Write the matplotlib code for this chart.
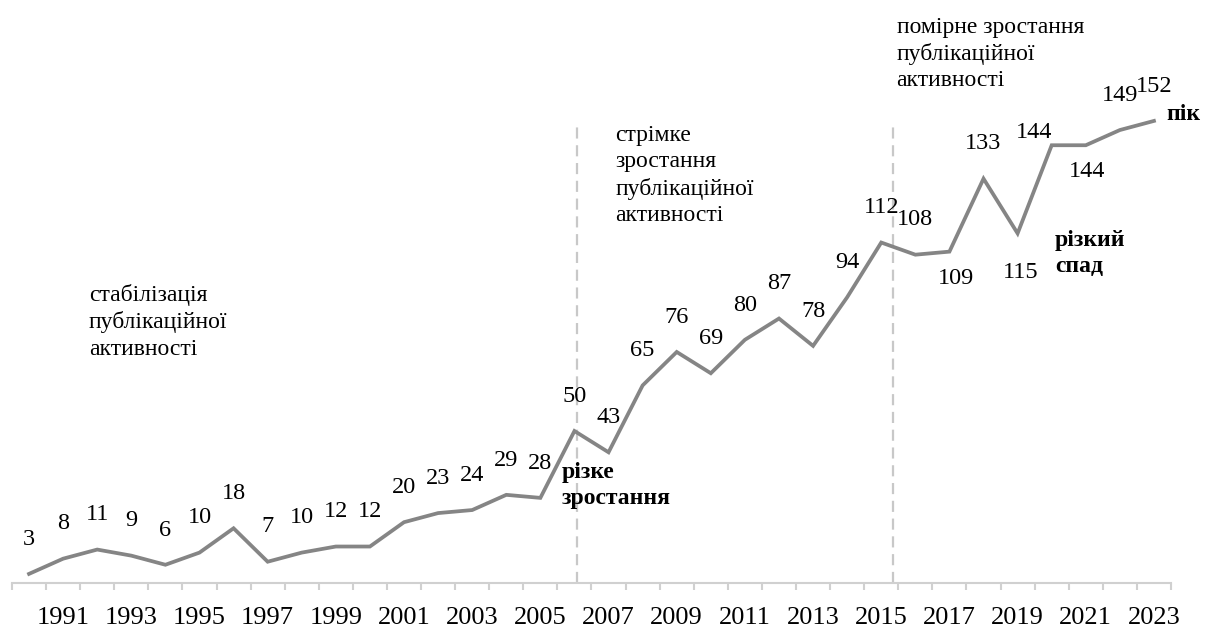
import matplotlib
matplotlib.use("Agg")
import matplotlib.pyplot as plt
import numpy as np

plt.rcParams['font.family'] = ['Liberation Serif', 'DejaVu Serif']

# кількість публікацій за роками
years = list(range(1990, 2024))
counts = [3, 8, 11, 9, 6, 10, 18, 7, 10, 12, 12, 20, 23, 24, 29, 28,
          50, 43, 65, 76, 69, 80, 87, 78, 94, 112, 108, 109, 133, 115,
          144, 144, 149, 152]
tick_years = list(range(1991, 2024, 2))

# межі періодів
period_bounds = [2006.07, 2015.34]

# підписи, що стоять не над точкою (зсув у пунктах)
label_shift = {2017: (5, -19), 2019: (2, -28), 2020: (-13, 9), 2021: (1, -19)}

line_color = '#858585'
axis_color = '#d0d0d0'

fig = plt.figure(figsize=(12.12, 6.30), dpi=100)
ax = fig.add_axes([12 / 1212, 47 / 630, 1159 / 1212, 583 / 630])

ax.plot(years, counts, color=line_color, linewidth=2.7, solid_joinstyle='miter', zorder=3)

for y, v in zip(years, counts):
    dx, dy = label_shift.get(y, (0, 25))
    ax.annotate(str(v), xy=(y, v), xytext=(dx, dy), textcoords='offset points',
                ha='center', va='center', fontsize=17.5, color='black')

for b in period_bounds:
    ax.plot([b, b], [0, 152], color='#c8c8c8', linewidth=1.6,
            linestyle=(0, (5, 3)), zorder=1)

# текстові пояснення до періодів
ls = 1.33
ax.text(1991.75, 86, 'стабілізація\nпублікаційної\nактивності',
        fontsize=17, va='center', ha='left', linespacing=ls)
ax.text(2007.2, 134, 'стрімке\nзростання\nпублікаційної\nактивності',
        fontsize=17, va='center', ha='left', linespacing=ls)
ax.text(2015.45, 174, 'помірне зростання\nпублікаційної\nактивності',
        fontsize=17, va='center', ha='left', linespacing=ls)
ax.text(2005.63, 32, 'різке\nзростання', fontsize=17, fontweight='bold',
        va='center', ha='left', linespacing=ls)
ax.text(2020.1, 108.5, 'різкий\nспад', fontsize=17, fontweight='bold',
        va='center', ha='left', linespacing=ls)
ax.text(2023.36, 154, 'пік', fontsize=17, fontweight='bold',
        va='center', ha='left', clip_on=False)

ax.set_xlim(1989.5, 2023.5)
ax.set_ylim(0, 583 / 3.04)

for s in ['top', 'right', 'left']:
    ax.spines[s].set_visible(False)
ax.spines['bottom'].set_color(axis_color)
ax.spines['bottom'].set_linewidth(1.5)
ax.set_yticks([])

ax.set_xticks(tick_years)
ax.set_xticklabels([str(t) for t in tick_years], fontsize=19)
ax.tick_params(axis='x', which='major', length=0, pad=17)
ax.set_xticks(np.arange(1989.5, 2024, 1.0), minor=True)
ax.tick_params(axis='x', which='minor', length=5, width=1.5, color=axis_color)

fig.savefig('out.png', dpi=100)
